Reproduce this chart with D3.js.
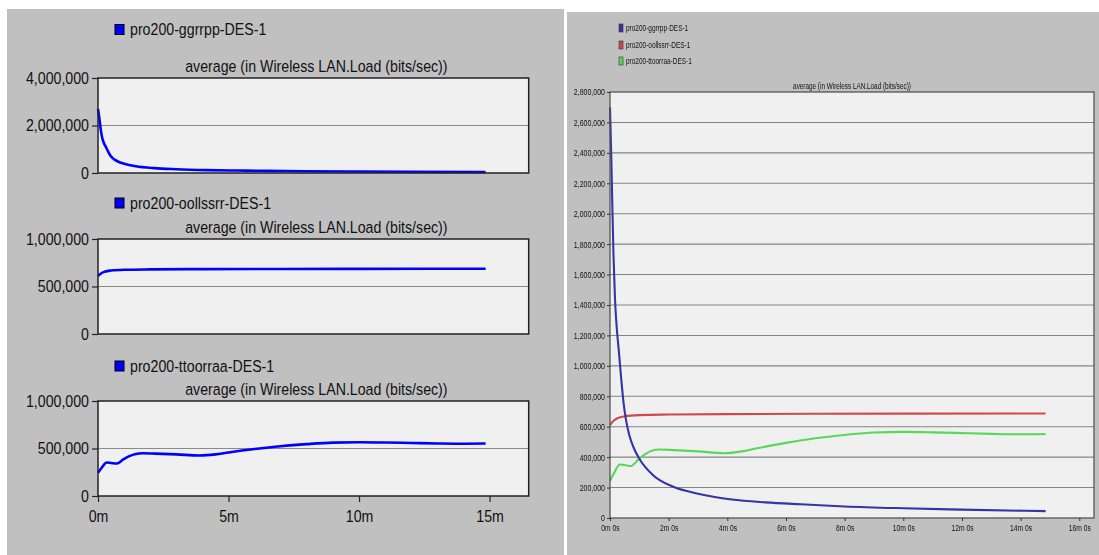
<!DOCTYPE html>
<html>
<head>
<meta charset="utf-8">
<script src="https://cdn.jsdelivr.net/npm/d3@7"></script>
<style>
  body { margin: 0; background: #fff; }
  text { font-family: "Liberation Sans", Arial, sans-serif; fill: #111; }
</style>
</head>
<body>
<script>
// series (time in minutes, load in bits/sec)
const seriesNames = ["pro200-ggrrpp-DES-1", "pro200-oollssrr-DES-1", "pro200-ttoorraa-DES-1"];

const ggrrppTime = [0, 0.04, 0.08, 0.12, 0.17, 0.23, 0.3, 0.38, 0.46, 0.55, 0.65, 0.8, 1.0, 1.45, 2.16, 3.0, 4.15, 5.3, 6.5, 8.0, 10.0, 12.0, 14.85];
const ggrrppLoad = [2700000, 2400000, 2050000, 1720000, 1440000, 1250000, 1100000, 920000, 760000, 640000, 550000, 465000, 390000, 285000, 205000, 160000, 122000, 103000, 90000, 76000, 64000, 55000, 45000];

const oollssrrTime = [0, 0.1, 0.25, 0.5, 1.0, 2.0, 4.0, 7.0, 10.0, 14.85];
const oollssrrLoad = [610000, 635000, 655000, 668000, 676000, 680000, 683000, 685000, 686000, 687000];

const ttoorraaTime = [0, 0.15, 0.33, 0.5, 0.72, 0.97, 1.2, 1.45, 1.7, 2.2, 3.0, 3.9, 4.5, 5.0, 6.0, 7.0, 8.0, 9.0, 10.0, 11.0, 12.0, 13.0, 14.0, 14.85];
const ttoorraaLoad = [245000, 300000, 352000, 348000, 342000, 385000, 420000, 443000, 450000, 446000, 438000, 426000, 438000, 458000, 494000, 524000, 546000, 562000, 566000, 563000, 558000, 553000, 550000, 552000];

const chartTitle = "average (in Wireless LAN.Load (bits/sec))";
const leftYTicksBig = [0, 2000000, 4000000];
const leftYTicksSmall = [0, 500000, 1000000];
const leftXTicks = [0, 5, 10, 15];
const rightYTicks = [0, 200000, 400000, 600000, 800000, 1000000, 1200000, 1400000,
                     1600000, 1800000, 2000000, 2200000, 2400000, 2600000, 2800000];
const rightXTicks = [0, 2, 4, 6, 8, 10, 12, 14, 16];
const rightColors = ["#3434a6", "#d04a4a", "#58d858"];

const W = 1099, H = 555;
const fmt = d3.format(",");

function zip(ts, vs) {
    return ts.map((t, i) => ({t: t, v: vs[i]}));
}
const series = [
    zip(ggrrppTime, ggrrppLoad),
    zip(oollssrrTime, oollssrrLoad),
    zip(ttoorraaTime, ttoorraaLoad)
];

// narrow the text horizontally, the original font is condensed
function squeeze(sel, sx) {
    sel.each(function () {
        const t = d3.select(this);
        const x = +t.attr("x") || 0;
        const y = +t.attr("y") || 0;
        t.attr("x", null).attr("y", null)
            .attr("transform", `translate(${x},${y}) scale(${sx},1)`);
    });
}

function label(g, x, y, str, size, sx, anchor) {
    const t = g.append("text")
        .attr("x", x).attr("y", y)
        .attr("dy", "0.35em")
        .attr("text-anchor", anchor || "start")
        .style("font-size", size + "px")
        .text(str);
    squeeze(t, sx);
    return t;
}

const svg = d3.select("body").append("svg")
    .attr("width", W).attr("height", H);

svg.append("rect").attr("width", W).attr("height", H).attr("fill", "#fff");

const defs = svg.append("defs");
defs.append("filter").attr("id", "soft")
    .append("feGaussianBlur").attr("stdDeviation", 0.55);

// ---------- left panel: three small charts ----------
const left = svg.append("g");
left.append("rect").attr("x", 7).attr("y", 9).attr("width", 557).attr("height", 546)
    .attr("fill", "#c0c0c0");

const lx = d3.scaleLinear().domain([0, 16.5]).range([98, 528.7]);
const plotH = 95;
const leftCharts = [
    {top: 78, legendY: 29.5, ticks: leftYTicksBig, data: series[0], name: seriesNames[0]},
    {top: 239, legendY: 203, ticks: leftYTicksSmall, data: series[1], name: seriesNames[1]},
    {top: 401, legendY: 366, ticks: leftYTicksSmall, data: series[2], name: seriesNames[2], xAxis: true}
];

leftCharts.forEach(c => {
    const g = left.append("g");
    const y = d3.scaleLinear().domain([0, c.ticks[2]]).range([c.top + plotH, c.top]);

    g.append("rect")
        .attr("x", lx(0)).attr("y", c.top)
        .attr("width", lx.range()[1] - lx(0)).attr("height", plotH)
        .attr("fill", "#f0f0f0");

    g.append("line")
        .attr("x1", lx(0)).attr("x2", lx.range()[1])
        .attr("y1", y(c.ticks[1])).attr("y2", y(c.ticks[1]))
        .attr("stroke", "#8a8a8a").attr("stroke-width", 1.2);

    const line = d3.line()
        .x(d => lx(d.t))
        .y(d => y(d.v))
        .curve(d3.curveMonotoneX);
    g.append("path").datum(c.data)
        .attr("d", line)
        .attr("fill", "none")
        .attr("stroke", "#0000ff")
        .attr("stroke-width", 2.6)
        .attr("stroke-linejoin", "round");

    g.append("rect")
        .attr("x", lx(0)).attr("y", c.top)
        .attr("width", lx.range()[1] - lx(0)).attr("height", plotH)
        .attr("fill", "none").attr("stroke", "#222").attr("stroke-width", 1.5);

    const ya = g.append("g")
        .attr("transform", `translate(${lx(0)},0)`)
        .call(d3.axisLeft(y).tickValues(c.ticks).tickSize(6).tickPadding(3).tickFormat(fmt));
    ya.select(".domain").remove();
    ya.selectAll("line").attr("stroke", "#222").attr("stroke-width", 1.2);
    ya.selectAll("text").style("font-size", "16.5px").attr("fill", "#111");
    squeeze(ya.selectAll("text"), 0.86);

    if (c.xAxis) {
        const xa = g.append("g")
            .attr("transform", `translate(0,${c.top + plotH})`)
            .call(d3.axisBottom(lx).tickValues(leftXTicks).tickSize(6).tickPadding(8)
                .tickFormat(d => d + "m"));
        xa.select(".domain").remove();
        xa.selectAll("line").attr("stroke", "#222").attr("stroke-width", 1.2);
        xa.selectAll("text").style("font-size", "16.5px").attr("fill", "#111");
        squeeze(xa.selectAll("text"), 0.86);
    }

    label(g, (lx(0) + lx.range()[1]) / 2 + 3, c.top - 12, chartTitle, 16.5, 0.86, "middle");

    g.append("rect")
        .attr("x", 115).attr("y", c.legendY - 5).attr("width", 9).attr("height", 10)
        .attr("fill", "#0000ff").attr("stroke", "#000").attr("stroke-width", 1);
    label(g, 130, c.legendY, c.name, 16.5, 0.86, "start");
});

// ---------- right panel: all three series together ----------
const right = svg.append("g").attr("filter", "url(#soft)");
right.append("rect").attr("x", 567).attr("y", 12).attr("width", 532).attr("height", 543)
    .attr("fill", "#c0c0c0");

const rx = d3.scaleLinear().domain([0, 16.5]).range([610, 1094]);
const ry = d3.scaleLinear().domain([0, 2800000]).range([518, 92]);

right.append("rect")
    .attr("x", rx(0)).attr("y", ry(2800000))
    .attr("width", rx.range()[1] - rx(0)).attr("height", ry(0) - ry(2800000))
    .attr("fill", "#f0f0f0");

right.append("g").selectAll("line")
    .data(rightYTicks.slice(1, -1))
    .join("line")
    .attr("x1", rx(0)).attr("x2", rx.range()[1])
    .attr("y1", d => ry(d)).attr("y2", d => ry(d))
    .attr("stroke", "#858585").attr("stroke-width", 1.1);

const rline = d3.line()
    .x(d => rx(d.t))
    .y(d => ry(d.v))
    .curve(d3.curveMonotoneX);

// draw order: red, green, blue on top
[1, 2, 0].forEach(i => {
    right.append("path").datum(series[i])
        .attr("d", rline)
        .attr("fill", "none")
        .attr("stroke", rightColors[i])
        .attr("stroke-width", 2.1)
        .attr("stroke-linejoin", "round");
});

right.append("rect")
    .attr("x", rx(0)).attr("y", ry(2800000))
    .attr("width", rx.range()[1] - rx(0)).attr("height", ry(0) - ry(2800000))
    .attr("fill", "none").attr("stroke", "#555").attr("stroke-width", 1.3);

const rya = right.append("g")
    .attr("transform", `translate(${rx(0)},0)`)
    .call(d3.axisLeft(ry).tickValues(rightYTicks).tickSize(3).tickPadding(2).tickFormat(fmt));
rya.select(".domain").remove();
rya.selectAll("line").attr("stroke", "#333");
rya.selectAll("text").style("font-size", "9px").attr("fill", "#222");
squeeze(rya.selectAll("text"), 0.78);

const rxa = right.append("g")
    .attr("transform", `translate(0,${ry(0)})`)
    .call(d3.axisBottom(rx).tickValues(rightXTicks).tickSize(3).tickPadding(4)
        .tickFormat(d => d + "m 0s"));
rxa.select(".domain").remove();
rxa.selectAll("line").attr("stroke", "#333");
rxa.selectAll("text").style("font-size", "9px").attr("fill", "#222");
squeeze(rxa.selectAll("text"), 0.75);

label(right, (rx(0) + rx.range()[1]) / 2, 86, chartTitle, 8.5, 0.75, "middle");

const legendRows = [28, 45, 61];
seriesNames.forEach((name, i) => {
    right.append("rect")
        .attr("x", 619).attr("y", legendRows[i] - 4).attr("width", 4).attr("height", 8)
        .attr("fill", rightColors[i]).attr("stroke", "#333").attr("stroke-width", 0.6);
    label(right, 626, legendRows[i], name, 9, 0.72, "start");
});
</script>
</body>
</html>
